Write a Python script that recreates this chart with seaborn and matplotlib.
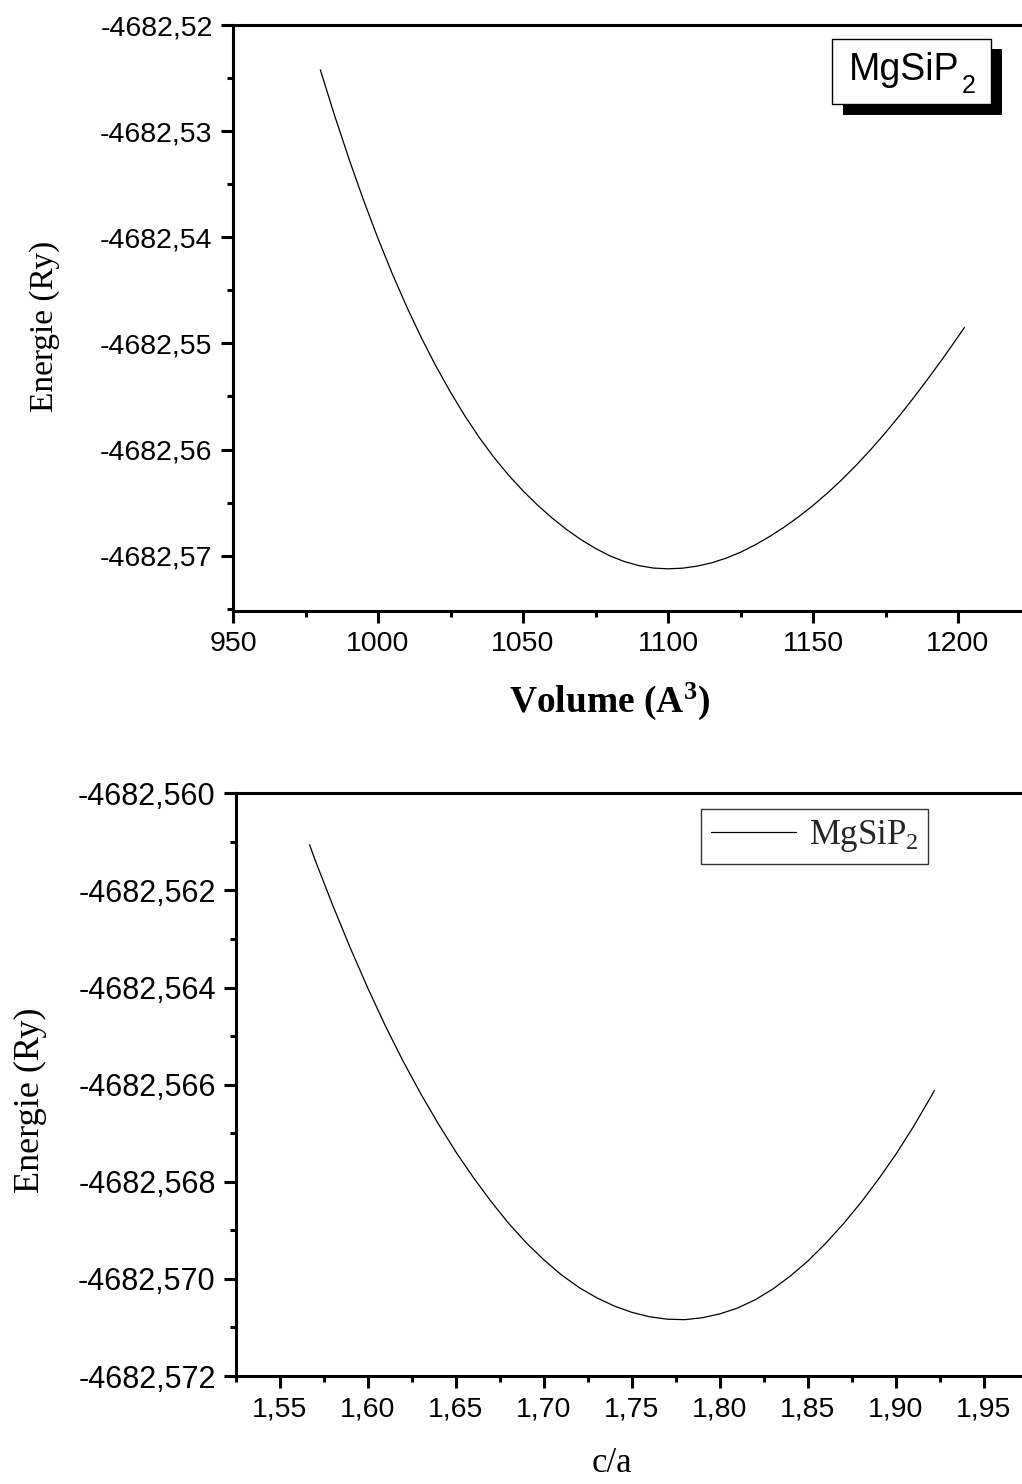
import matplotlib
matplotlib.use("Agg")
import matplotlib.pyplot as plt
import seaborn as sns
import pandas as pd
from matplotlib.ticker import FixedLocator, FuncFormatter
from matplotlib.patches import Rectangle

# ---------------- data ----------------
volume = [980.1, 985, 990, 995, 1000, 1005, 1010, 1015, 1020, 1025, 1030, 1035,
          1040, 1045, 1050, 1055, 1060, 1065, 1070, 1075, 1080, 1085, 1090,
          1095, 1100, 1105, 1110, 1115, 1120, 1125, 1130, 1135, 1140, 1145,
          1150, 1155, 1160, 1165, 1170, 1175, 1180, 1185, 1190, 1195, 1200,
          1202.2]
energy_vol = [-4682.52419, -4682.52848, -4682.53260, -4682.53648, -4682.54010,
              -4682.54348, -4682.54660, -4682.54949, -4682.55215, -4682.55460,
              -4682.55685, -4682.55890, -4682.56075, -4682.56241, -4682.56390,
              -4682.56524, -4682.56645, -4682.56754, -4682.56850, -4682.56933,
              -4682.57003, -4682.57057, -4682.57095, -4682.57118, -4682.57125,
              -4682.57119, -4682.57100, -4682.57069, -4682.57025, -4682.56969,
              -4682.56900, -4682.56821, -4682.56733, -4682.56635, -4682.56528,
              -4682.56410, -4682.56283, -4682.56145, -4682.55998, -4682.55841,
              -4682.55675, -4682.55501, -4682.55320, -4682.55132, -4682.54938,
              -4682.54850]

ca_ratio = [1.5668, 1.57, 1.58, 1.59, 1.60, 1.61, 1.62, 1.63, 1.64, 1.65, 1.66,
            1.67, 1.68, 1.69, 1.70, 1.71, 1.72, 1.73, 1.74, 1.75, 1.76, 1.77,
            1.78, 1.79, 1.80, 1.81, 1.82, 1.83, 1.84, 1.85, 1.86, 1.87, 1.88,
            1.89, 1.90, 1.91, 1.92, 1.9218]
energy_ca = [-4682.56106, -4682.56138, -4682.56231, -4682.56319, -4682.56402,
             -4682.56480, -4682.56552, -4682.56619, -4682.56681, -4682.56739,
             -4682.56792, -4682.56841, -4682.56886, -4682.56926, -4682.56961,
             -4682.56992, -4682.57018, -4682.57039, -4682.57056, -4682.57069,
             -4682.57078, -4682.57083, -4682.57084, -4682.57080, -4682.57072,
             -4682.57060, -4682.57043, -4682.57021, -4682.56994, -4682.56963,
             -4682.56927, -4682.56887, -4682.56843, -4682.56795, -4682.56743,
             -4682.56686, -4682.56624, -4682.56612]

vol_ticks = [950, 1000, 1050, 1100, 1150, 1200]
vol_minor = [975, 1025, 1075, 1125, 1175, 1225]
e1_ticks = [-4682.57, -4682.56, -4682.55, -4682.54, -4682.53, -4682.52]
e1_minor = [-4682.575, -4682.565, -4682.555, -4682.545, -4682.535, -4682.525]
ca_ticks = [1.55, 1.60, 1.65, 1.70, 1.75, 1.80, 1.85, 1.90, 1.95]
ca_minor = [1.525, 1.575, 1.625, 1.675, 1.725, 1.775, 1.825, 1.875, 1.925]
e2_ticks = [-4682.572, -4682.570, -4682.568, -4682.566, -4682.564, -4682.562, -4682.560]
e2_minor = [-4682.571, -4682.569, -4682.567, -4682.565, -4682.563, -4682.561]

compound = "MgSiP"
subscript = "2"

# ---------------- style ----------------
sns.set_theme(style="ticks")
plt.rcParams['font.family'] = ['Liberation Sans', 'DejaVu Sans']
plt.rcParams['mathtext.fontset'] = 'custom'
plt.rcParams['mathtext.rm'] = 'Liberation Serif'
plt.rcParams['mathtext.sf'] = 'Liberation Sans'
plt.rcParams['mathtext.it'] = 'Liberation Serif:italic'
plt.rcParams['mathtext.bf'] = 'Liberation Serif:bold'

W, H = 1022, 1484
fig = plt.figure(figsize=(W / 100, H / 100), dpi=100)

def px_axes(left, top, right, bottom):
    return fig.add_axes([left / W, 1 - bottom / H, (right - left) / W, (bottom - top) / H])

ax1 = px_axes(233, 25.3, 1022, 610.7)
ax2 = px_axes(236, 793.3, 1022, 1376)

df1 = pd.DataFrame({"V": volume, "E": energy_vol})
df2 = pd.DataFrame({"ca": ca_ratio, "E": energy_ca})

sns.lineplot(data=df1, x="V", y="E", ax=ax1, color="black", lw=0.9, legend=False)
sns.lineplot(data=df2, x="ca", y="E", ax=ax2, color="black", lw=0.9,
             label=r"$\mathrm{" + compound + r"_{" + subscript + r"}}$")


def style_axes(ax, xmaj, xmin, ymaj, ymin, xfmt, yfmt, xsize, ysize):
    for s in ["left", "bottom", "top"]:
        ax.spines[s].set_linewidth(2.2)
        ax.spines[s].set_color("black")
    ax.spines["right"].set_visible(False)
    ax.xaxis.set_major_locator(FixedLocator(xmaj))
    ax.xaxis.set_minor_locator(FixedLocator(xmin))
    ax.yaxis.set_major_locator(FixedLocator(ymaj))
    ax.yaxis.set_minor_locator(FixedLocator(ymin))
    ax.xaxis.set_major_formatter(FuncFormatter(lambda v, p: xfmt.format(v).replace('.', ',')))
    ax.yaxis.set_major_formatter(FuncFormatter(lambda v, p: yfmt.format(v).replace('.', ',')))
    ax.tick_params(which="major", direction="out", length=8.6, width=2.2,
                   pad=6, color="black", labelcolor="black")
    ax.tick_params(axis="x", which="major", labelsize=xsize)
    ax.tick_params(axis="y", which="major", labelsize=ysize)
    ax.tick_params(which="minor", direction="out", length=4.3, width=2.2, color="black")
    ax.tick_params(top=False, right=False, which="both")
    ax.set_facecolor("white")

ax1.set_xlim(950, 950 + 789 / 2.9)
ax1.set_ylim(-4682.5752, -4682.52)
style_axes(ax1, vol_ticks, vol_minor, e1_ticks, e1_minor, "{:.0f}", "{:.2f}", 20.5, 20.5)

ax2.set_xlim(1.525, 1.525 + 786 / 1760)
ax2.set_ylim(-4682.572, -4682.560)
style_axes(ax2, ca_ticks, ca_minor, e2_ticks, e2_minor, "{:.2f}", "{:.3f}", 20.5, 22)

# axis labels
ax1.set_ylabel("Energie (Ry)", family="Liberation Serif", fontsize=24, color="black")
ax1.yaxis.set_label_coords((60 - 233) / 789, 0.485)
ax1.set_xlabel(r"Volume (A$^{\mathbf{3}}$)", family="Liberation Serif", fontsize=27,
               fontweight="bold", color="black")
ax1.xaxis.label.set_va("center")
ax1.xaxis.set_label_coords((610 - 233) / 789, (610.7 - 701) / 585.4)

ax2.set_ylabel("Energie (Ry)", family="Liberation Serif", fontsize=26, color="black")
ax2.yaxis.set_label_coords((47 - 236) / 786, 0.474)
ax2.set_xlabel("c/a", family="Liberation Serif", fontsize=25, color="black")
ax2.xaxis.label.set_va("center")
ax2.xaxis.set_label_coords((612 - 236) / 786, (1376 - 1464) / 582.7)

# top panel label box with solid shadow
def fx(px):
    return (px - 233) / 789

def fy(py):
    return (610.7 - py) / 585.4

ax1.add_patch(Rectangle((fx(843), fy(115)), fx(1002) - fx(843), fy(49) - fy(115),
                        transform=ax1.transAxes, facecolor="black", edgecolor="black",
                        lw=0, zorder=5, clip_on=False))
ax1.add_patch(Rectangle((fx(832), fy(104)), fx(991) - fx(832), fy(39) - fy(104),
                        transform=ax1.transAxes, facecolor="white", edgecolor="black",
                        lw=1.0, zorder=6, clip_on=False))
ax1.text(fx(849), fy(80), compound, transform=ax1.transAxes, ha="left", va="baseline",
         fontsize=27, color="black", zorder=7)
ax1.text(fx(962), fy(93), subscript, transform=ax1.transAxes, ha="left", va="baseline",
         fontsize=18, color="black", zorder=7)

# bottom legend
leg = ax2.legend(loc="upper right", bbox_to_anchor=((928 - 236) / 786, (1376 - 809) / 582.7),
                 borderaxespad=0, frameon=True, fancybox=False,
                 handlelength=2.45, handletextpad=0.38, borderpad=0.27,
                 prop={"family": "Liberation Serif", "size": 25})
leg.get_frame().set_edgecolor("black")
leg.get_frame().set_linewidth(1.0)
for line in leg.get_lines():
    line.set_linewidth(0.9)

fig.savefig("out.png", dpi=100, facecolor="white")
